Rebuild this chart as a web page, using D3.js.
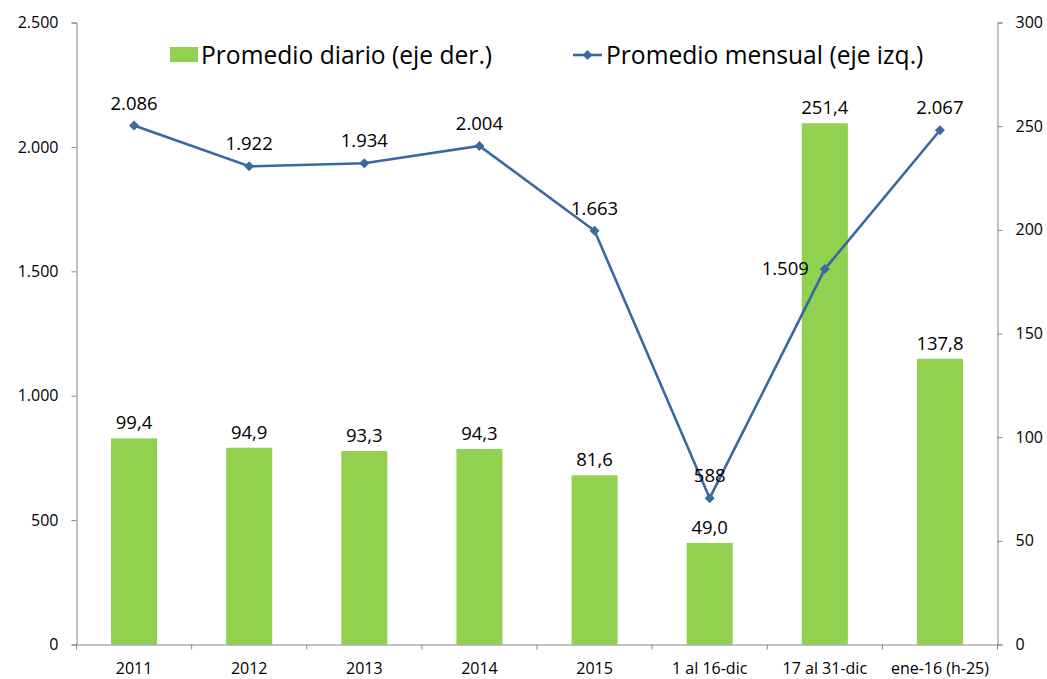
<!DOCTYPE html>
<html>
<head>
<meta charset="utf-8">
<script src="https://cdn.jsdelivr.net/npm/d3@7"></script>
<style>
  body { margin: 0; background: #fff; }
  svg text { font-family: "Open Sans", sans-serif; fill: #000; }
</style>
</head>
<body>
<svg id="chart" width="1047" height="679"></svg>
<script>
const categories = ["2011", "2012", "2013", "2014", "2015", "1 al 16-dic", "17 al 31-dic", "ene-16 (h-25)"];
const diario = [99.4, 94.9, 93.3, 94.3, 81.6, 49.0, 251.4, 137.8];   // eje der.
const mensual = [2086, 1922, 1934, 2004, 1663, 588, 1509, 2067];     // eje izq.
const leftTicks = [0, 500, 1000, 1500, 2000, 2500];
const rightTicks = [0, 50, 100, 150, 200, 250, 300];

const svg = d3.select("#chart");
const margin = {top: 22.5, right: 49.5, bottom: 34.5, left: 76.5};
const width = 1047 - margin.left - margin.right;
const height = 679 - margin.top - margin.bottom;

const g = svg.append("g").attr("transform", `translate(${margin.left},${margin.top})`);

const x = d3.scaleBand().domain(categories).range([0, width]).paddingInner(0.6).paddingOuter(0.3);
const xb = d3.scaleBand().domain(categories).range([0, width]);
const yL = d3.scaleLinear().domain([0, 2500]).range([height, 0]);
const yR = d3.scaleLinear().domain([0, 300]).range([height, 0]);

const fmtL = d3.formatLocale({decimal: ",", thousands: ".", grouping: [3], currency: ["", ""]});
const fL = fmtL.format(",d");
const fR = fmtL.format(",.1f");
const axisColor = "#868686";

// bars
g.selectAll("rect.bar").data(diario).enter().append("rect")
  .attr("class", "bar")
  .attr("x", (d, i) => x(categories[i]))
  .attr("width", x.bandwidth())
  .attr("y", d => yR(d))
  .attr("height", d => height - yR(d))
  .attr("fill", "#92D050");

// axes
const left = g.append("g").call(d3.axisLeft(yL).tickValues(leftTicks).tickFormat(fL).tickSize(5).tickPadding(13));
const right = g.append("g").attr("transform", `translate(${width},0)`)
  .call(d3.axisRight(yR).tickValues(rightTicks).tickSize(5).tickPadding(13));
const bottom = g.append("g").attr("transform", `translate(0,${height})`)
  .call(d3.axisBottom(xb).tickSize(0).tickPadding(18));
[left, right, bottom].forEach(a => {
  a.select(".domain").attr("stroke", axisColor);
  a.selectAll(".tick line").attr("stroke", axisColor);
  a.selectAll("text").attr("font-size", 16).attr("font-family", "'Open Sans', sans-serif");
});
// category boundary ticks
g.selectAll("line.xtick").data(d3.range(categories.length + 1)).enter().append("line")
  .attr("class", "xtick")
  .attr("x1", i => i * xb.step()).attr("x2", i => i * xb.step())
  .attr("y1", height).attr("y2", height + 5)
  .attr("stroke", axisColor);

// line
const lineColor = "#3A68A2";
const cx = i => xb(categories[i]) + xb.bandwidth() / 2;
const line = d3.line().x((d, i) => cx(i)).y(d => yL(d));
g.append("path").datum(mensual)
  .attr("d", line)
  .attr("fill", "none")
  .attr("stroke", lineColor)
  .attr("stroke-width", 2.6);
const diamond = "M0,-5L5,0L0,5L-5,0Z";
g.selectAll("path.mk").data(mensual).enter().append("path")
  .attr("class", "mk")
  .attr("d", diamond)
  .attr("transform", (d, i) => `translate(${cx(i)},${yL(d)})`)
  .attr("fill", lineColor);

// bar labels
g.selectAll("text.bl").data(diario).enter().append("text")
  .attr("class", "bl")
  .attr("x", (d, i) => cx(i))
  .attr("y", d => yR(d) - 9)
  .attr("text-anchor", "middle")
  .attr("font-size", 18.5)
  .text(d => fR(d));

// line labels
g.selectAll("text.ll").data(mensual).enter().append("text")
  .attr("class", "ll")
  .attr("x", (d, i) => i === 6 ? cx(i) - 16 : cx(i))
  .attr("y", (d, i) => i === 6 ? yL(d) + 6 : yL(d) - 16)
  .attr("text-anchor", (d, i) => i === 6 ? "end" : "middle")
  .attr("font-size", 18.5)
  .text(d => fL(d));

// legend
const lg = svg.append("g");
lg.append("rect").attr("x", 170).attr("y", 47).attr("width", 28).attr("height", 15).attr("fill", "#92D050");
lg.append("text").attr("x", 201).attr("y", 64).attr("font-size", 24.6).text("Promedio diario (eje der.)");
lg.append("line").attr("x1", 573).attr("x2", 602).attr("y1", 55).attr("y2", 55)
  .attr("stroke", lineColor).attr("stroke-width", 2.6);
lg.append("path").attr("d", diamond).attr("transform", "translate(587.5,55)").attr("fill", lineColor);
lg.append("text").attr("x", 606).attr("y", 64).attr("font-size", 24.6).text("Promedio mensual (eje izq.)");
</script>
</body>
</html>
